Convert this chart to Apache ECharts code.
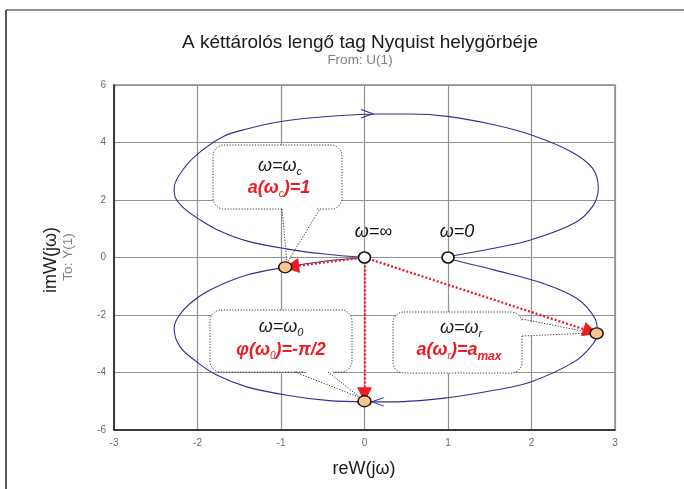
<!DOCTYPE html>
<html><head><meta charset="utf-8">
<script src="https://cdn.jsdelivr.net/npm/echarts@6/dist/echarts.min.js"></script>
<style>html,body{margin:0;padding:0;background:#fff}#c{width:684px;height:489px}</style>
</head><body><div id="c"></div>
<script>
// ---- data ----
const xTicks = [-3, -2, -1, 0, 1, 2, 3];
const yTicks = [-6, -4, -2, 0, 2, 4, 6];
// positive frequencies: omega = 0 ... infinity
const lowerRe = [1.0, 1.07, 1.55, 2.14, 2.54, 2.76, 2.79, 2.71, 2.51, 1.99, 1.55, 0.99, 0.35, 0.0, -0.45, -0.93, -1.41, -1.77, -2.01, -2.21, -2.28, -2.23, -2.09, -1.85, -1.41, -0.95, -0.48, 0.0];
const lowerIm = [0.0, -0.09, -0.43, -0.9, -1.42, -2.12, -2.64, -3.1, -3.63, -4.33, -4.62, -4.88, -5.02, -5.02, -4.97, -4.79, -4.5, -4.09, -3.63, -3.1, -2.47, -2.06, -1.6, -1.13, -0.61, -0.34, -0.13, 0.0];
// negative frequencies: omega = -infinity ... 0
const upperRe = [0.0, -0.48, -0.94, -1.40, -1.76, -2.0, -2.16, -2.26, -2.28, -2.16, -1.96, -1.69, -1.45, -1.0, -0.37, 0.19, 0.55, 0.99, 1.55, 1.99, 2.47, 2.73, 2.80, 2.73, 2.51, 1.99, 1.55, 1.07, 1.0];
const upperIm = [0.0, 0.12, 0.3, 0.57, 0.96, 1.37, 1.71, 2.05, 2.41, 3.11, 3.69, 4.21, 4.44, 4.73, 4.92, 4.99, 4.99, 4.91, 4.62, 4.27, 3.69, 3.11, 2.41, 1.77, 1.19, 0.61, 0.32, 0.06, 0.0];
const openPoints = [[0, 0], [1, 0]];                       // omega = inf, omega = 0
const keyPoints = [[-0.95, -0.34], [0, -5.0], [2.78, -2.64]]; // omega_c, omega_0, omega_r
const arrowOrigin = [0, 0];
const dirArrowPts = [[0.03, 5.0], [0.16, -5.02]];
const dirArrowRot = [0, 180];
const pointLabels = ['ω=∞', 'ω=0'];

// ---- styles ----
const BLUE = '#2e3192', RED = '#ed1c24', ORANGE = '#fbc58c';
const FONT = "'Liberation Sans', Arial, sans-serif";

const chart = echarts.init(document.getElementById('c'), null, {renderer: 'canvas'});

function zipPts(a, b) { return a.map((v, i) => [v, b[i]]); }

function callout(box, tail, z) {
  const [x, y, w, h] = box;
  return [
    {type: 'rect', z: z, shape: {x: x, y: y, width: w, height: h, r: 11},
     style: {fill: '#fff', stroke: '#333', lineWidth: 1, lineDash: [1.2, 1.6]}},
    {type: 'polygon', z: z + 0.1, shape: {points: tail.fill}, style: {fill: '#fff'}},
    {type: 'polyline', z: z + 0.2, shape: {points: tail.edge},
     style: {fill: null, stroke: '#333', lineWidth: 1, lineDash: [1.2, 1.6]}}
  ];
}

const mainRich = {
  m: {fontFamily: FONT, fontStyle: 'italic', fontSize: 18, fill: '#1a1a1a', verticalAlign: 'top'},
  s: {fontFamily: FONT, fontStyle: 'italic', fontSize: 11, fill: '#1a1a1a', verticalAlign: 'top', padding: [10, 0, 0, 0]},
  r: {fontFamily: FONT, fontStyle: 'italic', fontWeight: 'bold', fontSize: 18, fill: RED, verticalAlign: 'top'},
  rs: {fontFamily: FONT, fontStyle: 'italic', fontWeight: 'bold', fontSize: 12, fill: RED, verticalAlign: 'top', padding: [10, 0, 0, 0]},
  rsn: {fontFamily: FONT, fontStyle: 'italic', fontSize: 10, fill: RED, verticalAlign: 'top', padding: [10, 0, 0, 0]}
};
function rt(x, y, text) {
  return {type: 'text', z: 10, x: x, y: y,
    style: {text: text, rich: mainRich, align: 'center', verticalAlign: 'middle'}};
}

const graphics = [
  {type: 'line', z: 0, shape: {x1: 6, y1: 10, x2: 684, y2: 10}, style: {stroke: '#6a6a6a', lineWidth: 1.5}},
  {type: 'line', z: 0, shape: {x1: 6, y1: 10, x2: 6, y2: 489}, style: {stroke: '#222', lineWidth: 1.5}},
  {type: 'text', x: 360, y: 43, style: {text: 'A kéttárolós lengő tag Nyquist helygörbéje', font: '19px ' + FONT, fill: '#1a1a1a', align: 'center', verticalAlign: 'middle'}},
  {type: 'text', x: 360, y: 60, style: {text: 'From: U(1)', font: '13.5px ' + FONT, fill: '#808080', align: 'center', verticalAlign: 'middle'}},
  {type: 'text', x: 364, y: 469, style: {text: 'reW(jω)', font: '18px ' + FONT, fill: '#1a1a1a', align: 'center', verticalAlign: 'middle'}},
  {type: 'text', x: 51, y: 260, rotation: Math.PI / 2, style: {text: 'imW(jω)', font: '18px ' + FONT, fill: '#1a1a1a', align: 'center', verticalAlign: 'middle'}},
  {type: 'text', x: 68, y: 257, rotation: Math.PI / 2, style: {text: 'To: Y(1)', font: '13.5px ' + FONT, fill: '#808080', align: 'center', verticalAlign: 'middle'}},
  ...callout([213, 145, 129, 64], {fill: [[283, 205], [319, 205], [287, 262]], edge: [[282, 209], [287, 263], [320, 209]]}, 1),
  ...callout([210, 310, 142, 62], {fill: [[296, 368], [328, 368], [361, 397]], edge: [[295, 372], [361, 398], [328, 372]]}, 1),
  ...callout([393, 312, 129, 61], {fill: [[518, 320], [518, 336], [592, 333]], edge: [[522, 319], [592, 333], [522, 336]]}, 1),
  rt(280, 167, '{m|ω=ω}{s|c}'),
  rt(279, 189, '{r|a(ω}{rsn|c}{r|)=1}'),
  rt(281, 328, '{m|ω=ω}{s|0}'),
  rt(281, 351, '{r|φ(ω}{rsn|0}{r|)=-π/2}'),
  rt(461, 329, '{m|ω=ω}{s|r}'),
  rt(459, 352, '{r|a(ω}{rsn|r}{r|)=a}{rs|max}')
];

const arrowLines = keyPoints.map(p => ({coords: [arrowOrigin, p]}));

const option = {
  animation: false,
  grid: {left: 114, right: 69, top: 85, bottom: 59, show: true, borderColor: '#8a8a8a', borderWidth: 1.5, backgroundColor: 'transparent'},
  xAxis: {type: 'value', min: xTicks[0], max: xTicks[xTicks.length - 1], interval: 1,
    axisLine: {show: true, onZero: false, lineStyle: {color: '#1a1a1a', width: 1.5}},
    axisTick: {show: false},
    splitLine: {show: true, lineStyle: {color: '#939393', width: 1.2}},
    axisLabel: {color: '#6a6a6a', fontSize: 10, fontFamily: FONT, margin: 8}},
  yAxis: {type: 'value', min: yTicks[0], max: yTicks[yTicks.length - 1], interval: 2,
    axisLine: {show: true, onZero: false, lineStyle: {color: '#1a1a1a', width: 1.5}},
    axisTick: {show: false},
    splitLine: {show: true, lineStyle: {color: '#939393', width: 1.2}},
    axisLabel: {color: '#6a6a6a', fontSize: 10, fontFamily: FONT, margin: 8}},
  graphic: graphics,
  series: [
    {type: 'line', name: 'omega>0', data: zipPts(lowerRe, lowerIm), smooth: 0.35, showSymbol: false, symbol: 'none',
     lineStyle: {color: BLUE, width: 1.1}, z: 3},
    {type: 'line', name: 'omega<0', data: zipPts(upperRe, upperIm), smooth: 0.35, showSymbol: false, symbol: 'none',
     lineStyle: {color: BLUE, width: 1.1}, z: 3},
    {type: 'scatter', name: 'dir', data: dirArrowPts.map((p, i) => ({value: p, symbolRotate: dirArrowRot[i]})),
     symbol: 'path://M0,0L12,4.5L0,9', symbolSize: [12, 8.5], itemStyle: {color: 'rgba(0,0,0,0)', borderColor: BLUE, borderWidth: 1.1, opacity: 1}, z: 4, silent: true},
    {type: 'lines', name: 'arrows', coordinateSystem: 'cartesian2d', data: arrowLines,
     symbol: ['none', 'triangle'], symbolSize: [12, 15],
     lineStyle: {color: RED, width: 2.3, type: [2, 2], opacity: 1}, z: 5, silent: true},
    {type: 'scatter', name: 'open', data: openPoints, symbol: 'circle', symbolSize: [12, 11],
     itemStyle: {color: '#fff', borderColor: '#111', borderWidth: 1.6, opacity: 1}, z: 6,
     label: {show: true, position: 'top', distance: 10, formatter: p => pointLabels[p.dataIndex],
       fontFamily: FONT, fontStyle: 'italic', fontSize: 18, color: '#111', opacity: 1, offset: [9, 0]}},
    {type: 'scatter', name: 'key', data: keyPoints, symbol: 'circle', symbolSize: [13, 11],
     itemStyle: {color: ORANGE, borderColor: '#111', borderWidth: 1.4, opacity: 1}, z: 6}
  ]
};
chart.setOption(option);

// shorten red arrows so their tips touch the marker edge
const o = chart.convertToPixel({gridIndex: 0}, arrowOrigin);
const shortened = keyPoints.map(p => {
  const q = chart.convertToPixel({gridIndex: 0}, p);
  const dx = q[0] - o[0], dy = q[1] - o[1];
  const L = Math.sqrt(dx * dx + dy * dy);
  const k = (L - 6.5) / L;
  const e = chart.convertFromPixel({gridIndex: 0}, [o[0] + dx * k, o[1] + dy * k]);
  return {coords: [arrowOrigin, e]};
});
chart.setOption({series: [{}, {}, {}, {data: shortened}]});
</script></body></html>
